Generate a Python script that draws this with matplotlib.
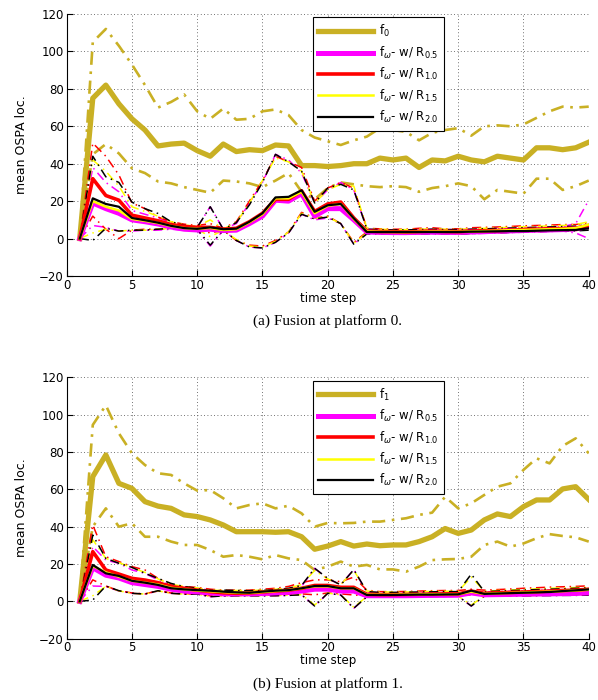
import matplotlib
matplotlib.use("Agg")
import matplotlib.pyplot as plt
import numpy as np

steps = np.arange(1, 41)

# ---- platform 0 ----
g0_mean = [0, 75, 82, 72, 64, 58, 49.5, 50.5, 51, 47, 44, 50.5, 46.5, 47.5, 47, 50, 49.5, 39, 39, 38.5,
           39, 40, 40, 43, 42, 43, 38, 42, 41.5, 44, 42, 41, 44, 43, 42, 48.5, 48.5, 47.5, 48.5, 51.5]
g0_up = [0, 105, 112, 103, 93, 82, 70, 73, 77, 68, 64, 69.5, 63.5, 64, 68, 69, 66, 58, 54, 52,
         50, 52.5, 54.5, 59, 58, 57, 52.5, 56.5, 58, 59, 55, 60, 60.5, 60, 61, 64.5, 68, 70.5, 70, 70.5]
g0_lo = [0, 45, 50.5, 45.5, 37.5, 35, 30.5, 29.5, 27.5, 26, 24.5, 31, 30.5, 29.5, 27.5, 31, 35, 25, 21, 27,
         30, 29, 28, 27.5, 28, 27.5, 25, 27, 28, 29.5, 28, 21, 26, 25, 24, 32, 32, 26, 28, 31]

m0_mag = [0, 19, 16, 13.5, 10, 9, 7.8, 6.2, 5, 4.6, 5, 4.3, 4.5, 8, 12, 20.5, 20, 24, 12, 16,
          16, 10, 3.5, 3.3, 3.2, 3.2, 3.3, 3.4, 3.3, 3.3, 3.5, 3.7, 3.9, 4.1, 4.3, 4.5, 4.6, 4.8, 5.2, 6.5]
m0_red = [0, 32, 23, 20.5, 12.5, 11, 9.5, 7.5, 6.5, 6, 6, 5, 5.5, 9, 13.5, 21, 21, 25.5, 14.5, 18.5,
          19.5, 11, 4, 3.8, 3.7, 3.5, 3.8, 4, 3.8, 3.7, 4, 4.2, 4.3, 4.5, 4.8, 5, 5.2, 5.3, 5.5, 7]
m0_yel = [0, 20, 17, 15, 10.5, 9.5, 8.3, 6.7, 5.6, 5.2, 5.7, 4.6, 5, 8.7, 13, 21.5, 21.5, 25, 13.5, 17.5,
          18.5, 10.5, 3.8, 3.6, 3.5, 3.5, 3.6, 3.7, 3.7, 3.6, 3.8, 4, 4.2, 4.5, 4.6, 4.8, 5, 5.2, 5.6, 7.5]
m0_blk = [0, 21.5, 18.5, 17, 11, 9.8, 8.5, 6.8, 5.6, 5.2, 6, 5, 5.3, 9, 13.5, 22, 22.3, 25.8, 14.3, 17.8,
          18.5, 10.8, 3.5, 3.5, 3.5, 3.5, 3.5, 3.5, 3.5, 3.5, 3.7, 3.8, 3.9, 4, 4, 4.2, 4.4, 4.5, 4.6, 5.5]

u0_mag = [0, 38, 30, 25, 15, 13, 11, 8.5, 7, 6, 17, 5, 8, 19, 30, 45, 42, 35, 19, 26,
          30, 26, 5, 4.8, 4.6, 4.6, 4.8, 5, 4.8, 4.8, 5, 5.2, 5.4, 5.6, 5.8, 6, 6.2, 6.4, 8, 20.5]
u0_red = [0, 51, 44, 34, 19, 16, 11.5, 9, 7.7, 7, 8, 5.5, 9, 20, 31, 44, 41, 38, 20, 27,
          30, 27, 5.5, 5.2, 5, 5, 5.5, 5.8, 5.2, 5.2, 5.8, 6, 6.2, 6.5, 6.8, 7, 7.2, 7.5, 7.5, 8.5]
u0_yel = [0, 42, 36, 28, 17, 14.5, 12, 9, 7.3, 6.5, 10, 5.2, 8.5, 19, 31, 43, 41, 36, 19, 26,
          29, 28, 5.5, 5, 4.8, 4.8, 5, 5.2, 5, 5, 5.2, 5.5, 5.8, 6, 6.3, 6.5, 6.8, 7, 7.5, 9]
u0_blk = [0, 44, 33, 30, 19.5, 16, 13.4, 9, 7, 6, 17, 5, 8.5, 18, 30, 45, 41, 36, 19, 27,
          29, 26, 5, 4.8, 4.6, 4.6, 4.8, 5, 4.8, 4.8, 5, 5.2, 5.4, 5.6, 5.8, 6, 6.2, 6.4, 6.6, 7.5]

l0_mag = [0, 7, 6, 4, 4, 4.5, 4.5, 5, 4.5, 4.5, -4, 4.5, -1, -4.5, -5, -2, 3, 13, 10, 11,
          8, -3, 3, 2.5, 2.3, 2.3, 2.5, 2.6, 2.4, 2.4, 2.6, 2.8, 3, 3.2, 3.4, 3.6, 3.8, 4, 3, 0]
l0_red = [0, 12, 5, 0, 4.5, 5, 5, 5.5, 5, 5, 3, 4.5, -1, -3.5, -4, -1, 3.5, 14, 11, 12,
          8, -2, 3.5, 2.8, 2.6, 2.6, 2.8, 3, 2.8, 2.7, 3, 3.2, 3.4, 3.6, 3.8, 4, 4.2, 4.4, 4.6, 5.5]
l0_yel = [0, 3, 5, 4, 4.5, 4.5, 5, 5.5, 5, 5, 1, 4.5, -0.5, -4, -4.5, -1.5, 3.5, 13.5, 11, 11.5,
          8, -2.5, 3, 2.6, 2.5, 2.5, 2.6, 2.7, 2.6, 2.6, 2.8, 3, 3.2, 3.4, 3.6, 3.8, 4, 4.2, 4.3, 5]
l0_blk = [0, -1, 5.5, 4, 4.5, 4.5, 5, 5.5, 5, 5, -3.5, 4.5, -1, -4.5, -5, -2, 3, 13, 10.5, 11.5,
          8, -3, 2.5, 2.5, 2.4, 2.4, 2.5, 2.6, 2.5, 2.5, 2.7, 2.9, 3.1, 3.3, 3.5, 3.7, 3.9, 4, 4.1, 4.5]

# ---- platform 1 ----
g1_mean = [0, 66.8, 78.4, 63.2, 60.5, 53.4, 51, 49.8, 46.3, 45.4, 43.6, 40.9, 37.3, 37.3, 37.3, 37, 37.3, 34.6, 27.9, 29.6,
           32, 29.6, 30.7, 29.8, 30.2, 30.2, 32, 34.6, 39, 36.4, 38.2, 43.6, 46.8, 45.4, 50.7, 54.3, 54.3, 60.2, 61.4, 54.6]
g1_up = [0, 94.5, 105, 90, 79.3, 73, 68.6, 67.7, 63.2, 59.3, 59.6, 55.2, 49.8, 51.6, 52.5, 49.8, 51.2, 47.1, 40, 42,
         41.8, 42, 42.7, 42.7, 43.6, 44.5, 46.3, 47.5, 56, 49.8, 52.5, 57, 61.4, 63.2, 70.4, 76.6, 73.9, 83.2, 87.3, 79.3]
g1_lo = [0, 40, 49.8, 40, 41.8, 34.6, 34.6, 32, 30.2, 30.2, 27.5, 23.9, 24.8, 23.9, 22.5, 24.8, 23, 22.1, 16.8, 18.6,
         21.3, 18.6, 19.5, 17.1, 17.1, 15.9, 18.6, 22.1, 22.5, 22.7, 23.9, 30.2, 32, 29.3, 31, 33.8, 36, 35, 34.3, 32]

m1_mag = [0, 18, 14, 12.5, 10, 9, 8, 6.5, 5.5, 5, 4.5, 4, 4, 4, 4.2, 4.5, 4.8, 5.5, 6.5, 6.5,
          5.5, 5.5, 3, 3, 3, 3, 3.1, 3.2, 3.2, 3.3, 4.5, 3.5, 3.6, 3.7, 3.8, 3.9, 4, 4.1, 4.2, 4.5]
m1_red = [0, 26.6, 16.8, 14.6, 12.3, 11.4, 10, 7.9, 7, 6, 5.2, 4.6, 4.3, 4.5, 5, 5.5, 6, 7, 8.5, 8.5,
          7.5, 7.5, 3.8, 3.6, 3.6, 3.7, 3.8, 3.9, 4, 4, 5.5, 4.3, 4.6, 4.8, 5, 5.2, 5.5, 5.8, 6, 6.5]
m1_yel = [0, 19, 15.5, 13.2, 11, 10, 9, 7.2, 6.4, 5.8, 5.4, 5, 4.6, 4.5, 5, 5.5, 6, 7, 8, 8,
          7, 7, 3.5, 3.5, 3.5, 3.6, 3.7, 3.8, 3.8, 3.8, 5.2, 4, 4.3, 4.5, 4.7, 5, 5.2, 5.5, 5.8, 6.2]
m1_blk = [0, 19.5, 15, 13.6, 11, 10, 8.8, 7, 6.4, 6, 5.7, 5.2, 4.8, 4.6, 5.2, 5.7, 6, 7, 8.2, 8.2,
          7, 7, 3.4, 3.4, 3.4, 3.5, 3.6, 3.6, 3.7, 3.75, 5.7, 4, 4.2, 4.4, 4.6, 4.8, 5, 5.5, 5.9, 6.4]

u1_mag = [0, 29.3, 22.1, 20.4, 16.8, 15, 11.4, 8.5, 7.5, 7, 6, 5.5, 5.5, 5.5, 5.5, 6, 6.5, 8, 17.7, 12,
          9, 17, 5, 4.5, 4.5, 4.6, 4.7, 4.8, 4.8, 4.8, 5, 5, 5.2, 5.4, 5.6, 5.8, 6, 6, 6.2, 6.3]
u1_red = [0, 40.9, 23.9, 21.3, 18.6, 16.8, 12.3, 8.8, 7.9, 7.5, 6.5, 6, 6, 6, 6.5, 7, 8, 10, 11.5, 11.5,
          10.5, 13, 6, 5.2, 5.2, 5.3, 5.5, 5.7, 5.8, 5.8, 6.5, 6, 6.3, 6.6, 7, 7.3, 7.6, 7.8, 8, 8.3]
u1_yel = [0, 33, 23, 20.8, 18, 15.5, 12, 9.2, 7.9, 7.2, 6, 5.8, 5.8, 5.8, 6, 6.5, 7, 9, 16.5, 12,
          9, 16.5, 5.5, 5, 5, 5, 5.2, 5.3, 5.4, 5.4, 13, 5.5, 5.8, 6.1, 6.4, 6.7, 7, 7.2, 7.4, 7.6]
u1_blk = [0, 35.5, 23, 20.4, 18.2, 15, 12.3, 9.6, 7.9, 7, 5.2, 6, 5.8, 5.7, 5.8, 6.3, 7, 8.5, 17.7, 12.3,
          8.8, 17, 5.2, 4.8, 4.8, 4.9, 5, 5.1, 5.2, 5.2, 14.6, 5.2, 5.5, 5.8, 6, 6.3, 6.5, 6.7, 7, 7.2]

l1_mag = [0, 8.2, 8, 5.5, 4.3, 3.9, 5.5, 4.3, 3.9, 3.9, 2.5, 2.9, 3, 3, 3, 3, 3.2, 3.5, -2.5, 4.3,
          3.4, -3.7, 2.5, 2.5, 2.5, 2.6, 2.6, 2.7, 2.7, 2.7, -2.5, 2.8, 2.9, 3, 3, 3.1, 3.2, 3.3, 3.3, 3.4]
l1_red = [0, 11.5, 8.2, 5.7, 4.5, 4, 5.7, 4.5, 4, 4, 3, 3.2, 3.4, 3.4, 3.4, 3.5, 3.8, 4, 3.5, 4.5,
          4, 3.4, 3, 2.9, 2.9, 3, 3, 3.1, 3.1, 3.1, 3.5, 3.2, 3.3, 3.4, 3.5, 3.6, 3.7, 3.8, 3.9, 4]
l1_yel = [0, 3, 8, 5.6, 4.3, 3.9, 5.6, 4.3, 3.9, 3.9, 2.6, 2.9, 3, 3, 3.1, 3.1, 3.3, 3.6, -2, 4.4,
          3.5, -3.2, 2.6, 2.6, 2.6, 2.6, 2.7, 2.7, 2.8, 2.8, -2, 2.9, 3, 3.1, 3.1, 3.2, 3.3, 3.3, 3.4, 3.5]
l1_blk = [0, 0.7, 8.2, 5.7, 4.3, 3.9, 5.7, 4.3, 3.9, 3.9, 2.5, 2.9, 3, 3, 3, 3, 3.2, 3.5, -2.5, 4.3,
          3.4, -3.7, 2.5, 2.5, 2.5, 2.5, 2.6, 2.6, 2.7, 2.7, -2.5, 2.8, 2.9, 3, 3, 3.1, 3.1, 3.2, 3.2, 3.3]

r_labels = ["0.5", "1.0", "1.5", "2.0"]
gold = (0.79, 0.69, 0.14)
r_colors = ["#ff00ff", "#ff0000", "#ffff00", "#000000"]
r_widths = [3.6, 2.6, 1.8, 1.6]


def panel(ax, gmean, gup, glo, means, ups, los, fname, caption):
    ax.plot(steps, gup, color=gold, lw=1.9, ls=(0, (5, 2.5, 1, 2.5)))
    ax.plot(steps, glo, color=gold, lw=1.9, ls=(0, (5, 2.5, 1, 2.5)))
    ax.plot(steps, gmean, color=gold, lw=3.8, label=fname)
    for u, l, c in zip(ups, los, r_colors):
        ax.plot(steps, u, color=c, lw=1.1, ls=(0, (6, 3, 1, 3)))
        ax.plot(steps, l, color=c, lw=1.1, ls=(0, (6, 3, 1, 3)))
    for m, c, w, r in zip(means, r_colors, r_widths, r_labels):
        ax.plot(steps, m, color=c, lw=w, label=r"f$_\omega$- w/ R$_{%s}$" % r)

    ax.set_xlim(0, 40)
    ax.set_ylim(-20, 120)
    ax.set_xticks(range(0, 41, 5))
    ax.set_yticks(range(-20, 121, 20))
    ax.set_yticklabels([str(v).replace("-", "\u2212") for v in range(-20, 121, 20)])
    ax.grid(True, color="#444444", ls=(0, (1, 3)), lw=0.6)
    for s in ["top", "right"]:
        ax.spines[s].set_visible(False)
    ax.tick_params(direction="in", length=4, labelsize=8.5, pad=2)
    ax.set_xlabel("time step", fontsize=8.5, labelpad=0)
    ax.set_ylabel("mean OSPA loc.", fontsize=9, family=["Liberation Sans Narrow", "DejaVu Sans"], labelpad=8)
    leg = ax.legend(loc="upper left", bbox_to_anchor=(0.471, 0.987), borderaxespad=0,
                    fancybox=False, edgecolor="black", framealpha=1, fontsize=8.5,
                    handlelength=4.6, handletextpad=0.5, labelspacing=0.45, borderpad=0.5)
    leg.get_frame().set_linewidth(0.8)
    ax.text(0.5, -0.145, caption, transform=ax.transAxes, ha="center", va="top",
            fontsize=11, family=["Liberation Serif", "DejaVu Serif"])


fig = plt.figure(figsize=(5.98, 7.0), dpi=100)
ax0 = fig.add_axes([0.1115, 0.6057, 0.873, 0.3743])
ax1 = fig.add_axes([0.1115, 0.0876, 0.873, 0.3734])

panel(ax0, g0_mean, g0_up, g0_lo, [m0_mag, m0_red, m0_yel, m0_blk],
      [u0_mag, u0_red, u0_yel, u0_blk], [l0_mag, l0_red, l0_yel, l0_blk],
      r"f$_0$", "(a) Fusion at platform 0.")
panel(ax1, g1_mean, g1_up, g1_lo, [m1_mag, m1_red, m1_yel, m1_blk],
      [u1_mag, u1_red, u1_yel, u1_blk], [l1_mag, l1_red, l1_yel, l1_blk],
      r"f$_1$", "(b) Fusion at platform 1.")

fig.savefig("out.png", dpi=100)
